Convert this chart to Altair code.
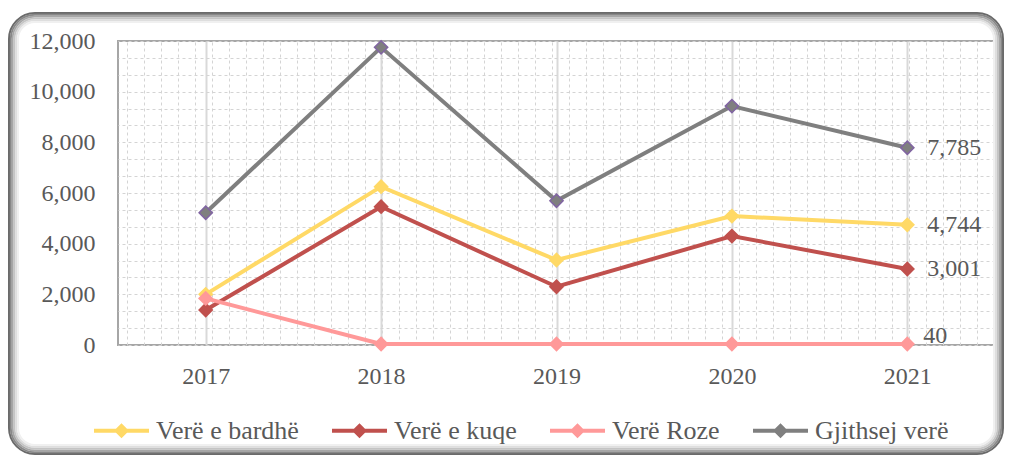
import altair as alt
import pandas as pd

years = ["2017", "2018", "2019", "2020", "2021"]
series = ["Verë e bardhë", "Verë e kuqe", "Verë Roze", "Gjithsej verë"]
white = [2000, 6250, 3355, 5090, 4744]
red = [1380, 5460, 2300, 4300, 3001]
rose = [1840, 40, 40, 40, 40]
total = [5220, 11750, 5695, 9430, 7785]
y_ticks = [0, 2000, 4000, 6000, 8000, 10000, 12000]

line_colors = ["#FFD966", "#C0504D", "#FF9999", "#7F7F7F"]
marker_strokes = ["#FFD966", "#C0504D", "#FF9999", "#8064A2"]

rows = []
for s, vals in zip(series, [white, red, rose, total]):
    for yr, v in zip(years, vals):
        rows.append({"Viti": yr, "Seria": s, "Vlera": v})
df = pd.DataFrame(rows)

FONT = "Liberation Serif"
TXT = "#595959"
W, H = 877, 304

y_scale = alt.Scale(domain=[0, 12000], nice=False, zero=True)

# ---- decorative rounded frame (soft shadow look) ----
frame_colors = ["#6a6a6a", "#888888", "#a6a6a6", "#c4c4c4", "#dedede", "#f0f0f0"]
frames = []
for i, c in enumerate(frame_colors):
    inset = 1 + 1.8 * i
    frames.append(
        alt.Chart(alt.Data(values=[{}])).mark_rect(
            fill="transparent", stroke=c, strokeWidth=2, cornerRadius=26 - 1.8 * i
        ).encode(
            x=alt.value(-110 + inset), x2=alt.value(W + 9 - inset),
            y=alt.value(-29 + inset), y2=alt.value(H + 111 - 1 - inset),
        )
    )

# ---- dashed minor grid ----
grid_df = pd.DataFrame({"gx": [0, W / 17], "Vlera": [0, 12000]})
grid = alt.Chart(grid_df).mark_point(opacity=0).encode(
    x=alt.X("gx:Q", scale=alt.Scale(domain=[0, W / 17], nice=False, zero=False),
            axis=alt.Axis(orient="top", values=[k + 0.5 for k in range(51)], labels=False,
                          ticks=False, domain=False, title=None, grid=True,
                          gridDash=[3, 3], gridColor="#d4d4d4", gridWidth=1)),
    y=alt.Y("Vlera:Q", scale=y_scale,
            axis=alt.Axis(orient="right", values=[i * 2000 / 3 for i in range(19)], labels=False,
                          ticks=False, domain=False, title=None, grid=True,
                          gridDash=[3, 3], gridColor="#d4d4d4", gridWidth=1)),
)

x_enc = alt.X("Viti:O", scale=alt.Scale(type="point", padding=0.5),
              axis=alt.Axis(title=None, labelAngle=0, labelFont=FONT, labelFontSize=24,
                            labelColor=TXT, labelPadding=19, ticks=False, tickSize=0,
                            domain=False, grid=True, gridColor="#d9d9d9", gridWidth=2))
y_enc = alt.Y("Vlera:Q", scale=y_scale,
              axis=alt.Axis(title=None, values=y_ticks, labelExpr="format(datum.value, ',')",
                            labelFont=FONT, orient="left",
                            labelFontSize=24, labelColor=TXT, labelPadding=23, ticks=False,
                            tickSize=0, domain=False, grid=False))

legend = alt.Legend(
    title=None, orient="none", legendX=-26, legendY=360, direction="horizontal",
    columns=4, columnPadding=25, labelFont=FONT, labelFontSize=26, labelColor=TXT,
    labelOffset=5, labelLimit=300, padding=0,
    symbolType="M-1,0L1,0M-0.17,0L0,-0.17L0.17,0L0,0.17Z",
    symbolSize=3025, symbolStrokeWidth=4,
)

lines = alt.Chart(df).mark_line(strokeWidth=4).encode(
    x=x_enc, y=y_enc,
    color=alt.Color("Seria:N", scale=alt.Scale(domain=series, range=line_colors),
                    sort=series, legend=legend),
)
points = alt.Chart(df).mark_point(shape="diamond", filled=True, size=175, strokeWidth=1.5,
                                  opacity=1).encode(
    x="Viti:O", y="Vlera:Q",
    fill=alt.Fill("Seria:N", scale=alt.Scale(domain=series, range=line_colors), legend=None),
    stroke=alt.Stroke("Seria:N", scale=alt.Scale(domain=series, range=marker_strokes), legend=None),
)
last = df[df["Viti"] == "2021"]
labels_hi = alt.Chart(last).transform_filter(alt.datum.Vlera >= 1000).mark_text(
    align="left", baseline="middle", dx=20, font=FONT, fontSize=24, color=TXT
).encode(x="Viti:O", y="Vlera:Q", text=alt.Text("Vlera:Q", format=","))
labels_lo = alt.Chart(last).transform_filter(alt.datum.Vlera < 1000).mark_text(
    align="left", baseline="middle", dx=16, dy=-8, font=FONT, fontSize=24, color=TXT
).encode(x="Viti:O", y="Vlera:Q", text=alt.Text("Vlera:Q", format=","))

main = alt.layer(lines, points, labels_hi, labels_lo)

chart = alt.layer(*frames, grid, main).resolve_scale(x="independent").resolve_axis(
    y="independent"
).properties(
    width=W, height=H,
    autosize=alt.AutoSizeParams(type="none"),
    padding={"left": 110, "top": 33, "right": 9, "bottom": 111},
    background="white",
).configure_view(
    stroke="#a6a6a6", strokeWidth=2
).configure_axis(
    labelFont=FONT, labelFontSize=24, labelColor=TXT
).configure_legend(
    labelFont=FONT, labelFontSize=26, labelColor=TXT
)

chart.save("out.html", embed_options={"renderer": "svg", "actions": False})
